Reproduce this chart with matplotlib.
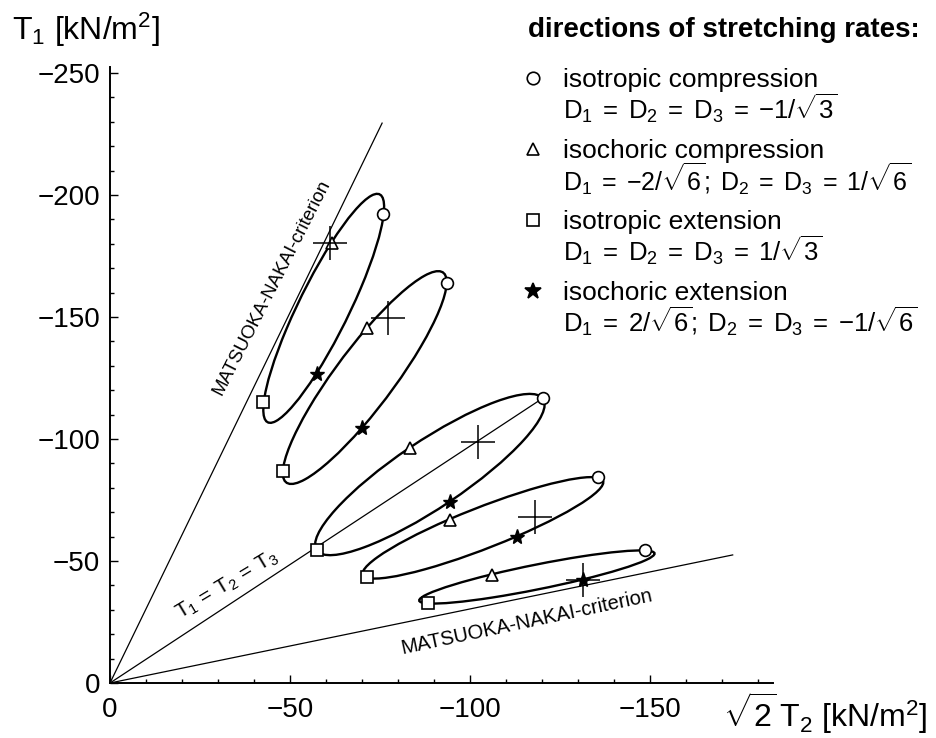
import matplotlib
matplotlib.use("Agg")
import matplotlib.pyplot as plt
from matplotlib.patches import Ellipse
from matplotlib.transforms import Affine2D
import numpy as np

plt.rcParams['font.family'] = ['Liberation Sans', 'DejaVu Sans']
plt.rcParams['mathtext.fontset'] = 'custom'
plt.rcParams['mathtext.rm'] = 'Liberation Sans'
plt.rcParams['mathtext.it'] = 'Liberation Sans:italic'
plt.rcParams['mathtext.bf'] = 'Liberation Sans:bold'

# Stress states (x = sqrt(2) T2, y = T1, kN/m^2) reached from each initial
# state for the four stretching directions, one entry per response envelope
iso_comp_x = [-75.8, -93.6, -120.3, -135.6, -148.6]
iso_comp_y = [-192.2, -163.9, -116.8, -84.4, -54.5]
isoch_comp_x = [-61.7, -71.4, -83.3, -94.4, -106.1]
isoch_comp_y = [-180.3, -145.5, -96.3, -66.8, -44.3]
iso_ext_x = [-42.5, -48.1, -57.5, -71.4, -88.3]
iso_ext_y = [-115.2, -86.9, -54.5, -43.4, -32.8]
isoch_ext_x = [-57.5, -70.0, -94.4, -113.1, -131.4]
isoch_ext_y = [-126.6, -104.5, -74.2, -59.8, -42.2]

# initial stress states
start_x = [-61.0, -77.2, -102.2, -118.1, -131.4]
start_y = [-180.3, -149.6, -98.8, -68.0, -42.2]

# Matsuoka-Nakai limit lines (end points, starting at the origin)
mn_upper_x = [0, -75.6]
mn_upper_y = [0, -229.5]
mn_lower_x = [0, -173.0]
mn_lower_y = [0, -52.5]

legend_labels = [
    ("isotropic compression",
     r"$\mathrm{D_1\;=\;D_2\;=\;D_3\;=\;{-}1/\sqrt{3}}$"),
    ("isochoric compression",
     r"$\mathrm{D_1\;=\;{-}2/\sqrt{6};\;D_2\;=\;D_3\;=\;1/\sqrt{6}}$"),
    ("isotropic extension",
     r"$\mathrm{D_1\;=\;D_2\;=\;D_3\;=\;1/\sqrt{3}}$"),
    ("isochoric extension",
     r"$\mathrm{D_1\;=\;2/\sqrt{6};\;D_2\;=\;D_3\;=\;{-}1/\sqrt{6}}$"),
]
rate_sizes = [18.5, 18, 18.5, 18.5]

W, H = 937, 738
fig = plt.figure(figsize=(W / 100, H / 100), dpi=100)
ax = fig.add_axes([110 / W, 55 / H, 663 / W, 616 / H])
ax.set_xlim(0, -184.2)
ax.set_ylim(0, -252.5)

for s in ('top', 'right'):
    ax.spines[s].set_visible(False)
for s in ('left', 'bottom'):
    ax.spines[s].set_linewidth(1.4)

ax.set_xticks([0, -50, -100, -150])
ax.set_yticks([0, -50, -100, -150, -200, -250])
ax.set_xticks(np.arange(0, -181, -10), minor=True)
ax.set_yticks(np.arange(0, -251, -10), minor=True)
ax.tick_params(which='both', direction='in', width=1, labelsize=20)
ax.tick_params(which='major', length=6)
ax.tick_params(which='minor', length=3)
ax.tick_params(axis='x', pad=10)
ax.tick_params(axis='y', pad=7)

# limit lines and hydrostatic axis
ax.plot(mn_upper_x, mn_upper_y, color='k', lw=0.9)
ax.plot(mn_lower_x, mn_lower_y, color='k', lw=0.9)
ax.plot([0, iso_comp_x[2]], [0, iso_comp_y[2]], color='k', lw=0.9)

# response envelopes: ellipses with conjugate diameters circle-square
# and triangle-star
for i in range(len(start_x)):
    cx = (iso_comp_x[i] + iso_ext_x[i] + isoch_comp_x[i] + isoch_ext_x[i]) / 4
    cy = (iso_comp_y[i] + iso_ext_y[i] + isoch_comp_y[i] + isoch_ext_y[i]) / 4
    ux = (iso_comp_x[i] - iso_ext_x[i]) / 2
    uy = (iso_comp_y[i] - iso_ext_y[i]) / 2
    vx = (isoch_comp_x[i] - isoch_ext_x[i]) / 2
    vy = (isoch_comp_y[i] - isoch_ext_y[i]) / 2
    m = Affine2D(np.array([[ux, vx, cx], [uy, vy, cy], [0, 0, 1]]))
    ax.add_patch(Ellipse((0, 0), 2, 2, fill=False, ec='k', lw=1.7,
                         transform=m + ax.transData))

mk = dict(ls='none', color='k', mfc='white', mew=1.2, ms=8.5, zorder=3)
ax.plot(iso_comp_x, iso_comp_y, marker='o', **mk)
ax.plot(isoch_comp_x, isoch_comp_y, marker='^', **mk)
ax.plot(iso_ext_x, iso_ext_y, marker='s', **mk)
ax.plot(isoch_ext_x, isoch_ext_y, ls='none', marker='*', color='k', ms=11, zorder=3)
ax.plot(start_x, start_y, ls='none', marker='+', color='k', ms=24, mew=1.1, zorder=4)

ax.text(-45.0, -162.3, "MATSUOKA-NAKAI-criterion", rotation=63, fontsize=13.5,
        ha='center', va='center', rotation_mode='anchor')
ax.text(-115.8, -25.0, "MATSUOKA-NAKAI-criterion", rotation=12, fontsize=14.5,
        ha='center', va='center', rotation_mode='anchor')
ax.text(-32.5, -40.2, r"$\mathrm{T_1\,=\,T_2\,=\,T_3}$", rotation=31, fontsize=15,
        ha='center', va='center', rotation_mode='anchor')

fig.text(12 / W, 1 - 30 / H, r"$\mathrm{T_1\ [kN/m^2]}$", fontsize=23,
         ha='left', va='center')
fig.text(723 / W, 1 - 713 / H, r"$\sqrt{2}\,\mathrm{T_2\ [kN/m^2]}$", fontsize=23,
         ha='left', va='center')

# legend
fig.text(528 / W, 1 - 30 / H, "directions of stretching rates:", fontsize=20,
         fontweight='bold', ha='left', va='center')
legend_markers = [('o', 'white', 9), ('^', 'white', 9), ('s', 'white', 9), ('*', 'k', 12)]
for j, ((name, rate), (m, fc, size)) in enumerate(zip(legend_labels, legend_markers)):
    y0 = 80 + j * 71
    fig.lines.append(plt.Line2D([533 / W], [1 - (y0 - 2) / H], marker=m, mfc=fc, mec='k',
                                mew=1.2, ms=size, ls='none', transform=fig.transFigure))
    fig.text(563 / W, 1 - y0 / H, name, fontsize=19, ha='left', va='center')
    fig.text(563 / W, 1 - (y0 + 28) / H, rate, fontsize=rate_sizes[j],
             ha='left', va='center')

fig.savefig("out.png", dpi=100)
